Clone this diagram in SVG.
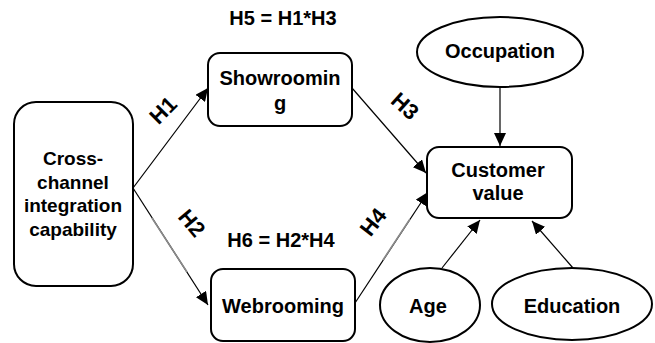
<svg xmlns="http://www.w3.org/2000/svg" width="655" height="343" viewBox="0 0 655 343">
<style>
.box{fill:#fff;stroke:#000;stroke-width:2}
.t{font-family:"Liberation Sans",Arial,sans-serif;font-weight:bold;font-size:20px;fill:#000;text-anchor:middle}
.h{font-size:22px}
.c{stroke:#000;stroke-width:1.2;fill:none;marker-end:url(#ah)}
.g{stroke:#8a8a8a;stroke-width:1.6;fill:none}
</style>
<defs>
<marker id="ah" markerUnits="userSpaceOnUse" markerWidth="14" markerHeight="12" refX="13" refY="6" orient="auto">
<path d="M0,0 L13,6 L0,12 Z" fill="#000"/>
</marker>
</defs>
<rect width="655" height="343" fill="#fff"/>
<g id="connectors">
<path class="c" d="M133,188 L208,88"/>
<path class="c" d="M133,188 L208,305"/>
<path class="g" d="M152,218 L187,272"/>
<path class="c" d="M352,88 L426,173"/>
<path class="c" d="M355,303 L428,192"/>
<path class="g" d="M383,260 L410,219"/>
<path class="c" d="M500,87 L500,146"/>
<path class="c" d="M442,268 L480,220"/>
<path class="c" d="M573,268 L532,221"/>
</g>
<g id="labels">
<text class="t" x="283" y="25">H5 = H1*H3</text>
<text class="t" x="281" y="247">H6 = H2*H4</text>
<text class="t h" dy="0.35em" transform="translate(163,110) rotate(-45)">H1</text>
<text class="t h" dy="0.35em" transform="translate(192,223) rotate(50)">H2</text>
<text class="t h" dy="0.35em" transform="translate(405,106) rotate(42)">H3</text>
<text class="t h" dy="0.35em" transform="translate(373,222) rotate(-52)">H4</text>
</g>
<g id="cross">
<rect class="box" x="14" y="102" width="119" height="184" rx="22"/>
<text class="t" style="font-size:19px" x="73" y="165">Cross-</text>
<text class="t" style="font-size:19px" x="73" y="189">channel</text>
<text class="t" style="font-size:19px" x="73" y="212">integration</text>
<text class="t" style="font-size:19px" x="73" y="236">capability</text>
</g>
<g id="showrooming">
<rect class="box" x="208" y="53" width="144" height="73" rx="12"/>
<text class="t" x="280" y="85">Showroomin</text>
<text class="t" x="280" y="110">g</text>
</g>
<g id="webrooming">
<rect class="box" x="211" y="269" width="144" height="72" rx="12"/>
<text class="t" x="283" y="313">Webrooming</text>
</g>
<g id="customer">
<rect class="box" x="427" y="147" width="145" height="71" rx="12"/>
<text class="t" x="498" y="177">Customer</text>
<text class="t" x="498" y="200">value</text>
</g>
<g id="occupation">
<ellipse class="box" cx="500" cy="52" rx="83" ry="35"/>
<text class="t" x="500" y="58">Occupation</text>
</g>
<g id="age">
<ellipse class="box" cx="430" cy="305" rx="50" ry="37"/>
<text class="t" x="428" y="313">Age</text>
</g>
<g id="education">
<ellipse class="box" cx="572" cy="304" rx="80" ry="36"/>
<text class="t" x="572" y="313">Education</text>
</g>
</svg>
